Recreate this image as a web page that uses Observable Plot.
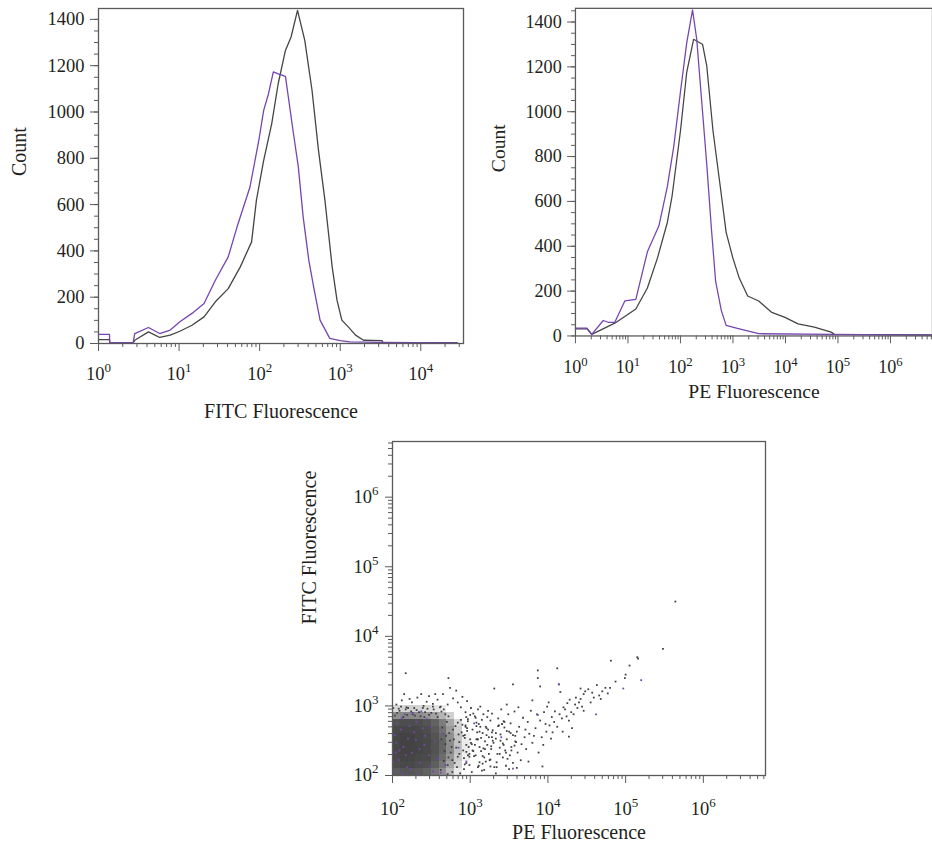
<!DOCTYPE html>
<html><head><meta charset="utf-8">
<script src="https://cdn.jsdelivr.net/npm/d3@7"></script>
<script src="https://cdn.jsdelivr.net/npm/@observablehq/plot@0.6"></script>
<style>
html,body{margin:0;padding:0;background:#fff;overflow:hidden}
#wrap{position:relative;width:932px;height:848px;overflow:hidden;background:#fff}
.panel{position:absolute}
.panel svg{overflow:visible}
</style></head><body><div id="wrap"></div>
<script>
// ---------- Panel 1: FITC histogram (x as log10 exponent, y as count) ----------
const fitcTreatedExp   = [0,0.136,0.14,0.43,0.45,0.62,0.76,0.89,1.01,1.16,1.31,1.45,1.61,1.72,1.88,1.99,2.05,2.11,2.17,2.23,2.32,2.42,2.48,2.54,2.61,2.67,2.75,2.87,3.0,3.12,3.5,4.45];
const fitcTreatedCount = [39,39,4,4,43,69,43,58,94,130,173,273,374,504,676,878,1007,1079,1173,1165,1154,906,763,547,360,245,101,22,12,7,5,3];
const fitcControlExp   = [0,0.136,0.14,0.43,0.45,0.62,0.76,0.89,1.01,1.16,1.31,1.45,1.61,1.76,1.9,1.96,2.05,2.15,2.23,2.32,2.39,2.47,2.56,2.65,2.73,2.81,2.9,2.96,3.02,3.1,3.19,3.29,3.52,3.53,4.45];
const fitcControlCount = [17,17,4,4,14,50,26,36,53,79,115,180,237,331,439,619,791,950,1122,1266,1324,1439,1309,1094,835,619,331,187,101,72,36,14,12,4,4];

// ---------- Panel 2: PE histogram ----------
const peTreatedExp   = [0,0.22,0.31,0.53,0.62,0.75,0.94,1.15,1.37,1.59,1.75,1.87,2.0,2.12,2.23,2.31,2.4,2.5,2.59,2.67,2.78,2.87,3.12,3.49,4.87,6.8];
const peTreatedCount = [35,35,7,69,61,61,156,163,375,491,666,841,1089,1308,1454,1323,1060,768,477,243,112,47,32,10,7,4];
const peControlExp   = [0,0.22,0.31,0.75,1.15,1.37,1.56,1.75,1.84,2.0,2.12,2.25,2.42,2.5,2.62,2.75,2.87,3.0,3.12,3.28,3.49,3.74,3.99,4.24,4.55,4.87,4.93,6.8];
const peControlCount = [32,32,7,57,120,214,346,506,623,914,1177,1323,1301,1206,914,681,462,346,258,178,156,105,83,54,39,17,7,5];

// ---------- Panel 3: scatter (log10 exponents) ----------
// dense core: opacity per 0.1-decade cell, rows bottom (10^2.0) to top, columns from 10^2.0
const coreXStart = 2.0, coreYStart = 2.0, coreStep = 0.1;
const coreDensity = [
  [.85,.88,.88,.86,.82,.72,.58,.36,.10,0],
  [.92,.95,.95,.93,.91,.84,.70,.48,.22,0],
  [.95,.97,.97,.95,.94,.88,.76,.55,.28,.08],
  [.96,.98,.98,.97,.95,.90,.80,.60,.32,.10],
  [.96,.98,.98,.97,.95,.90,.80,.60,.32,.10],
  [.96,.98,.98,.96,.94,.89,.78,.58,.30,.08],
  [.94,.96,.96,.95,.93,.86,.74,.52,.26,0],
  [.90,.93,.93,.92,.89,.82,.68,.46,.20,0],
  [.58,.62,.62,.60,.55,.48,.38,.24,0,0],
  [.20,.22,.25,.22,.20,.15,.10,0,0,0]
];
const scatterGrayPE = [3.02,3.10,2.95,3.18,3.25,3.05,3.14,2.98,3.22,3.08,3.28,2.93,3.16,3.03,3.20,3.11,2.97,3.26,3.07,3.17,2.94,3.23,3.01,3.13,3.29,3.24,3.12,2.99,3.06,3.19,3.27,3.09,2.96,3.15,3.04,3.21,3.30,3.12,2.92,3.26,3.18,3.00,3.08,3.22,3.14,2.95,3.28,3.03,3.16,3.10,
 3.34,3.42,3.55,3.38,3.61,3.47,3.33,3.58,3.66,3.44,3.52,3.36,3.63,3.49,3.57,3.40,3.68,3.35,3.53,3.45,3.60,3.39,3.50,3.65,3.43,3.55,3.31,3.47,3.62,3.37,3.59,3.70,3.46,3.33,3.51,
 3.72,3.80,3.88,3.76,3.92,3.84,3.98,3.74,3.90,4.02,3.86,3.95,4.05,3.78,3.99,4.08,3.82,3.94,4.06,3.87,3.87,3.90,3.80,4.01,3.75,3.93,4.09,3.71,3.97,4.04,
 4.12,4.18,4.22,4.15,4.27,4.27,4.20,4.30,4.33,4.35,4.38,4.42,4.46,4.42,4.46,4.40,4.25,4.14,4.12,4.16,4.31,4.24,4.36,4.48,4.44,4.19,4.28,
 4.52,4.57,4.59,4.70,4.74,4.80,4.87,4.81,4.99,5.00,4.66,4.55,4.68,4.63,4.77,
 5.05,5.15,5.16,5.48,5.64,2.17,2.72,
 2.05,2.12,2.18,2.25,2.32,2.40,2.47,2.52,2.58,2.65,2.71,2.78,2.84,2.90,2.96,2.15,2.37,2.55,2.82,2.44,2.08,2.28,2.62,2.74,2.88,2.22,
 2.93,3.01,3.07,3.12,3.19,3.24,3.31,3.36,3.43,3.48,3.55,2.97,3.04,3.09,3.15,3.21,3.27,3.34,3.41,3.46,3.52,3.58,2.91,2.99,3.06,3.11,3.17,3.23,3.29,3.38,3.44,3.50,3.57,3.02,3.13,3.26,3.39,3.53,2.95,3.08,3.20,3.33,3.47,3.60,3.00,3.16,3.28,3.42,2.94,3.10];
const scatterGrayFITC = [2.05,2.12,2.18,2.08,2.22,2.28,2.35,2.41,2.44,2.52,2.55,2.58,2.61,2.66,2.70,2.74,2.78,2.79,2.83,2.88,2.91,2.93,2.97,2.99,2.65,2.31,2.19,2.31,2.44,2.49,2.38,2.62,2.68,2.80,2.89,2.58,2.47,2.41,2.25,2.13,2.26,2.52,2.71,2.84,2.54,2.84,2.89,2.36,2.17,2.95,
 2.12,2.26,2.18,2.40,2.33,2.52,2.61,2.57,2.45,2.69,2.75,2.82,2.70,2.88,2.92,2.95,2.83,2.31,2.41,2.36,2.63,2.50,2.63,2.22,2.78,3.31,3.25,3.02,2.98,2.72,2.48,2.55,2.14,2.03,2.29,
 2.38,2.47,2.33,2.60,2.55,2.68,2.63,2.77,2.79,2.72,2.88,2.91,2.84,2.93,2.99,2.77,2.57,2.44,2.62,3.40,3.51,3.28,3.08,3.05,2.20,2.13,2.92,2.66,2.74,2.53,
 2.70,2.82,2.95,2.88,2.79,2.56,2.98,2.91,2.88,3.02,2.97,3.10,2.93,3.25,3.17,3.05,3.04,3.31,3.54,3.20,2.68,2.85,3.12,3.21,2.99,2.63,3.09,
 3.24,3.19,3.12,3.21,3.26,3.26,3.35,3.65,3.40,3.45,3.15,3.05,3.10,3.30,3.18,
 3.58,3.70,3.68,3.82,4.50,3.47,3.40,
 3.02,3.08,2.98,3.05,3.12,3.00,3.14,3.03,3.09,3.17,3.02,3.11,3.05,3.13,3.07,3.17,3.17,3.17,3.22,3.06,2.96,2.97,2.99,3.26,2.98,3.10,
 2.16,2.47,2.29,2.63,2.38,2.55,2.12,2.71,2.44,2.24,2.58,2.81,2.35,2.52,2.07,2.68,2.42,2.19,2.74,2.33,2.61,2.49,2.57,2.27,2.85,2.14,2.39,2.66,2.50,2.31,2.77,2.09,2.43,2.45,2.70,2.23,2.59,2.36,2.34,2.76,2.20,2.53,2.64,2.11,2.87,2.28,2.62,2.46,2.72,2.52];
// events at the fringe of the dense core
const fringePE   = [2.62,2.66,2.71,2.75,2.68,2.79,2.73,2.84,2.81,2.77,2.86,2.89,2.83,2.91,2.70,2.88,2.93,2.76,2.64,2.80,2.87,2.72,2.85,2.95,2.90,2.67,2.82,2.78,2.97,2.74,2.92,2.69,2.86,2.96,2.63,2.99,2.84,2.77,2.94,2.71,
 2.03,2.09,2.14,2.20,2.26,2.31,2.36,2.42,2.47,2.53,2.58,2.63,2.68,2.11,2.24,2.39,2.50,2.61,2.06,2.17,2.29,2.45,2.56,2.66,2.01,2.34,2.72,2.19,2.41,2.52];
const fringeFITC = [2.08,2.21,2.15,2.33,2.45,2.52,2.61,2.27,2.71,2.05,2.48,2.62,2.12,2.36,2.77,2.80,2.54,2.41,2.69,2.18,2.03,2.26,2.59,2.44,2.73,2.35,2.40,2.66,2.29,2.50,2.09,2.57,2.31,2.64,2.52,2.15,2.76,2.22,2.70,2.02,
 2.86,2.93,2.84,2.97,2.88,2.94,2.85,2.91,2.87,2.95,2.84,2.92,2.88,2.99,2.92,2.97,2.90,2.98,2.90,2.95,2.86,2.96,2.89,2.95,2.97,2.91,2.85,2.87,2.84,2.99];
const scatterPurplePE   = [2.02,2.08,2.14,2.03,2.19,2.25,2.11,2.30,2.06,2.36,2.41,2.22,2.47,2.33,2.16,2.52,2.28,2.44,2.09,2.39,2.55,2.01,2.20,2.48,2.13,2.35,2.58,2.26,2.05,2.42,2.62,2.31,2.17,2.50,2.68,2.04,2.37,2.24,2.65,2.12,2.85,3.05,2.95,3.40,3.55,4.62,4.97,5.20,4.14,3.87];
const scatterPurpleFITC = [2.05,2.22,2.41,2.58,2.12,2.33,2.66,2.51,2.75,2.18,2.44,2.71,2.29,2.02,2.88,2.06,2.62,2.81,2.36,2.68,2.49,2.19,2.53,2.13,2.03,2.38,2.24,2.90,2.47,2.57,2.04,2.77,2.29,2.70,2.15,2.33,2.92,2.09,2.60,2.82,2.40,2.75,2.20,2.55,2.10,2.88,3.25,3.37,3.31,2.87];

// ---------- shared helpers (ticks, styles) ----------
const decadeLabel = d => "10^" + Math.round(Math.log10(d));
function decadeTicks(e0, e1){ return d3.range(e0, e1 + 1).map(e => 10 ** e); }
function minorLogTicks(e0, e1, max){
  const t = [];
  for (let e = e0; e <= e1; e++) for (let m = 2; m < 10; m++) { const v = m * 10 ** e; if (v <= max) t.push(v); }
  return t;
}
const FONT = "Liberation Serif, Times New Roman, serif";
const TEXT = "#231f20", AXIS = "#5a5a5a", DARK = "#454545", PURPLE = "#7545b0";
const rows = (xs, ys) => xs.map((e, i) => ({v: 10 ** e, c: ys[i]}));

function superscripts(svg){
  svg.querySelectorAll("text").forEach(t => {
    const m = /^10\^(\d+)$/.exec(t.textContent);
    if (!m) return;
    t.textContent = "10";
    const s = document.createElementNS("http://www.w3.org/2000/svg", "tspan");
    s.setAttribute("dy", "-8");
    s.setAttribute("font-size", "13");
    s.textContent = m[1];
    t.appendChild(s);
  });
  return svg;
}
function addPanel(node, left, top){
  const div = document.createElement("div");
  div.className = "panel"; div.style.left = left + "px"; div.style.top = top + "px";
  div.appendChild(superscripts(node)); document.getElementById("wrap").appendChild(div);
}

function histogram({treated, control, xMaxExp, yMax, width, height, mL, mR, mT, mB, xLabel, xTickPad, xLabelDy, yLabelDx}){
  const xMax = 10 ** xMaxExp;
  return Plot.plot({
    width, height, marginLeft: mL, marginRight: mR, marginTop: mT, marginBottom: mB,
    style: {fontFamily: FONT, fontSize: "18.5px", color: TEXT, background: "transparent"},
    x: {type: "log", domain: [1, xMax], axis: null},
    y: {domain: [0, yMax], axis: null},
    marks: [
      Plot.line(control, {x: "v", y: "c", stroke: DARK, strokeWidth: 1.3}),
      Plot.line(treated, {x: "v", y: "c", stroke: PURPLE, strokeWidth: 1.3}),
      Plot.frame({stroke: AXIS, strokeWidth: 1.3}),
      Plot.axisY(d3.range(0, yMax, 50), {tickSize: 4, tickFormat: () => "", label: null, stroke: AXIS}),
      Plot.axisY(d3.range(0, 1401, 200), {tickSize: 8, tickPadding: 6, tickFormat: d => String(d), label: null, stroke: AXIS, fill: TEXT, fontSize: 18.5}),
      Plot.axisX(minorLogTicks(0, Math.floor(xMaxExp), xMax), {tickSize: 4, tickFormat: () => "", label: null, stroke: AXIS}),
      Plot.axisX(decadeTicks(0, Math.floor(xMaxExp)), {tickSize: 8, tickPadding: xTickPad, tickFormat: decadeLabel, label: null, stroke: AXIS, fill: TEXT, fontSize: 18.5}),
      Plot.text([xLabel], {frameAnchor: "bottom", lineAnchor: "bottom", dy: xLabelDy, fontSize: 20, fill: TEXT}),
      Plot.text(["Count"], {frameAnchor: "left", lineAnchor: "bottom", rotate: -90, dx: yLabelDx, fontSize: 20, fill: TEXT})
    ]
  });
}

addPanel(histogram({
  treated: rows(fitcTreatedExp, fitcTreatedCount), control: rows(fitcControlExp, fitcControlCount),
  xMaxExp: 4.53, yMax: 1447, width: 470, height: 425, mL: 98, mR: 7, mT: 8, mB: 82,
  xLabel: "FITC Fluorescence", xTickPad: 15, xLabelDy: 74, yLabelDx: -73
}), 0, 0);

addPanel(histogram({
  treated: rows(peTreatedExp, peTreatedCount), control: rows(peControlExp, peControlCount),
  xMaxExp: 6.8, yMax: 1461, width: 471, height: 425, mL: 107, mR: 0, mT: 8, mB: 83,
  xLabel: "PE Fluorescence", xTickPad: 17, xLabelDy: 63, yLabelDx: -72
}), 470, 0);

// scatter
const coreCells = [];
coreDensity.forEach((row, r) => row.forEach((o, c) => {
  if (!o) return;
  const x0 = coreXStart + c * coreStep, y0 = coreYStart + r * coreStep;
  coreCells.push({x1: 10 ** x0, x2: 10 ** (x0 + coreStep), y1: 10 ** y0, y2: 10 ** (y0 + coreStep), o});
}));
const grayDots = scatterGrayPE.map((e, i) => ({x: 10 ** e, y: 10 ** scatterGrayFITC[i]}))
  .concat(fringePE.map((e, i) => ({x: 10 ** e, y: 10 ** fringeFITC[i]})));
const purpleDots = scatterPurplePE.map((e, i) => ({x: 10 ** e, y: 10 ** scatterPurpleFITC[i]}));
const sMax = 10 ** 6.8;

addPanel(Plot.plot({
  width: 480, height: 418, marginLeft: 102, marginRight: 5, marginTop: 11, marginBottom: 73,
  style: {fontFamily: FONT, fontSize: "18.5px", color: TEXT, background: "transparent"},
  x: {type: "log", domain: [100, sMax], axis: null},
  y: {type: "log", domain: [100, sMax], axis: null},
  marks: [
    Plot.rect(coreCells, {x1: "x1", x2: "x2", y1: "y1", y2: "y2", fill: "#3f3f3f", fillOpacity: "o", shapeRendering: "crispEdges"}),
    Plot.dot(grayDots, {x: "x", y: "y", symbol: "square", r: 1, fill: "#404040"}),
    Plot.dot(purpleDots, {x: "x", y: "y", symbol: "square", r: 1, fill: PURPLE}),
    Plot.frame({stroke: AXIS, strokeWidth: 1.3}),
    Plot.axisY(minorLogTicks(2, 6, sMax), {tickSize: 4, tickFormat: () => "", label: null, stroke: AXIS}),
    Plot.axisY(decadeTicks(2, 6), {tickSize: 7, tickPadding: 7, tickFormat: decadeLabel, label: null, stroke: AXIS, fill: TEXT, fontSize: 18.5}),
    Plot.axisX(minorLogTicks(2, 6, sMax), {tickSize: 4, tickFormat: () => "", label: null, stroke: AXIS}),
    Plot.axisX(decadeTicks(2, 6), {tickSize: 8, tickPadding: 18, tickFormat: decadeLabel, label: null, stroke: AXIS, fill: TEXT, fontSize: 18.5}),
    Plot.text(["PE Fluorescence"], {frameAnchor: "bottom", lineAnchor: "bottom", dy: 63, fontSize: 20, fill: TEXT}),
    Plot.text(["FITC Fluorescence"], {frameAnchor: "left", lineAnchor: "bottom", rotate: -90, dx: -77, dy: 16, fontSize: 20, fill: TEXT})
  ]
}), 290, 430);
</script></body></html>
